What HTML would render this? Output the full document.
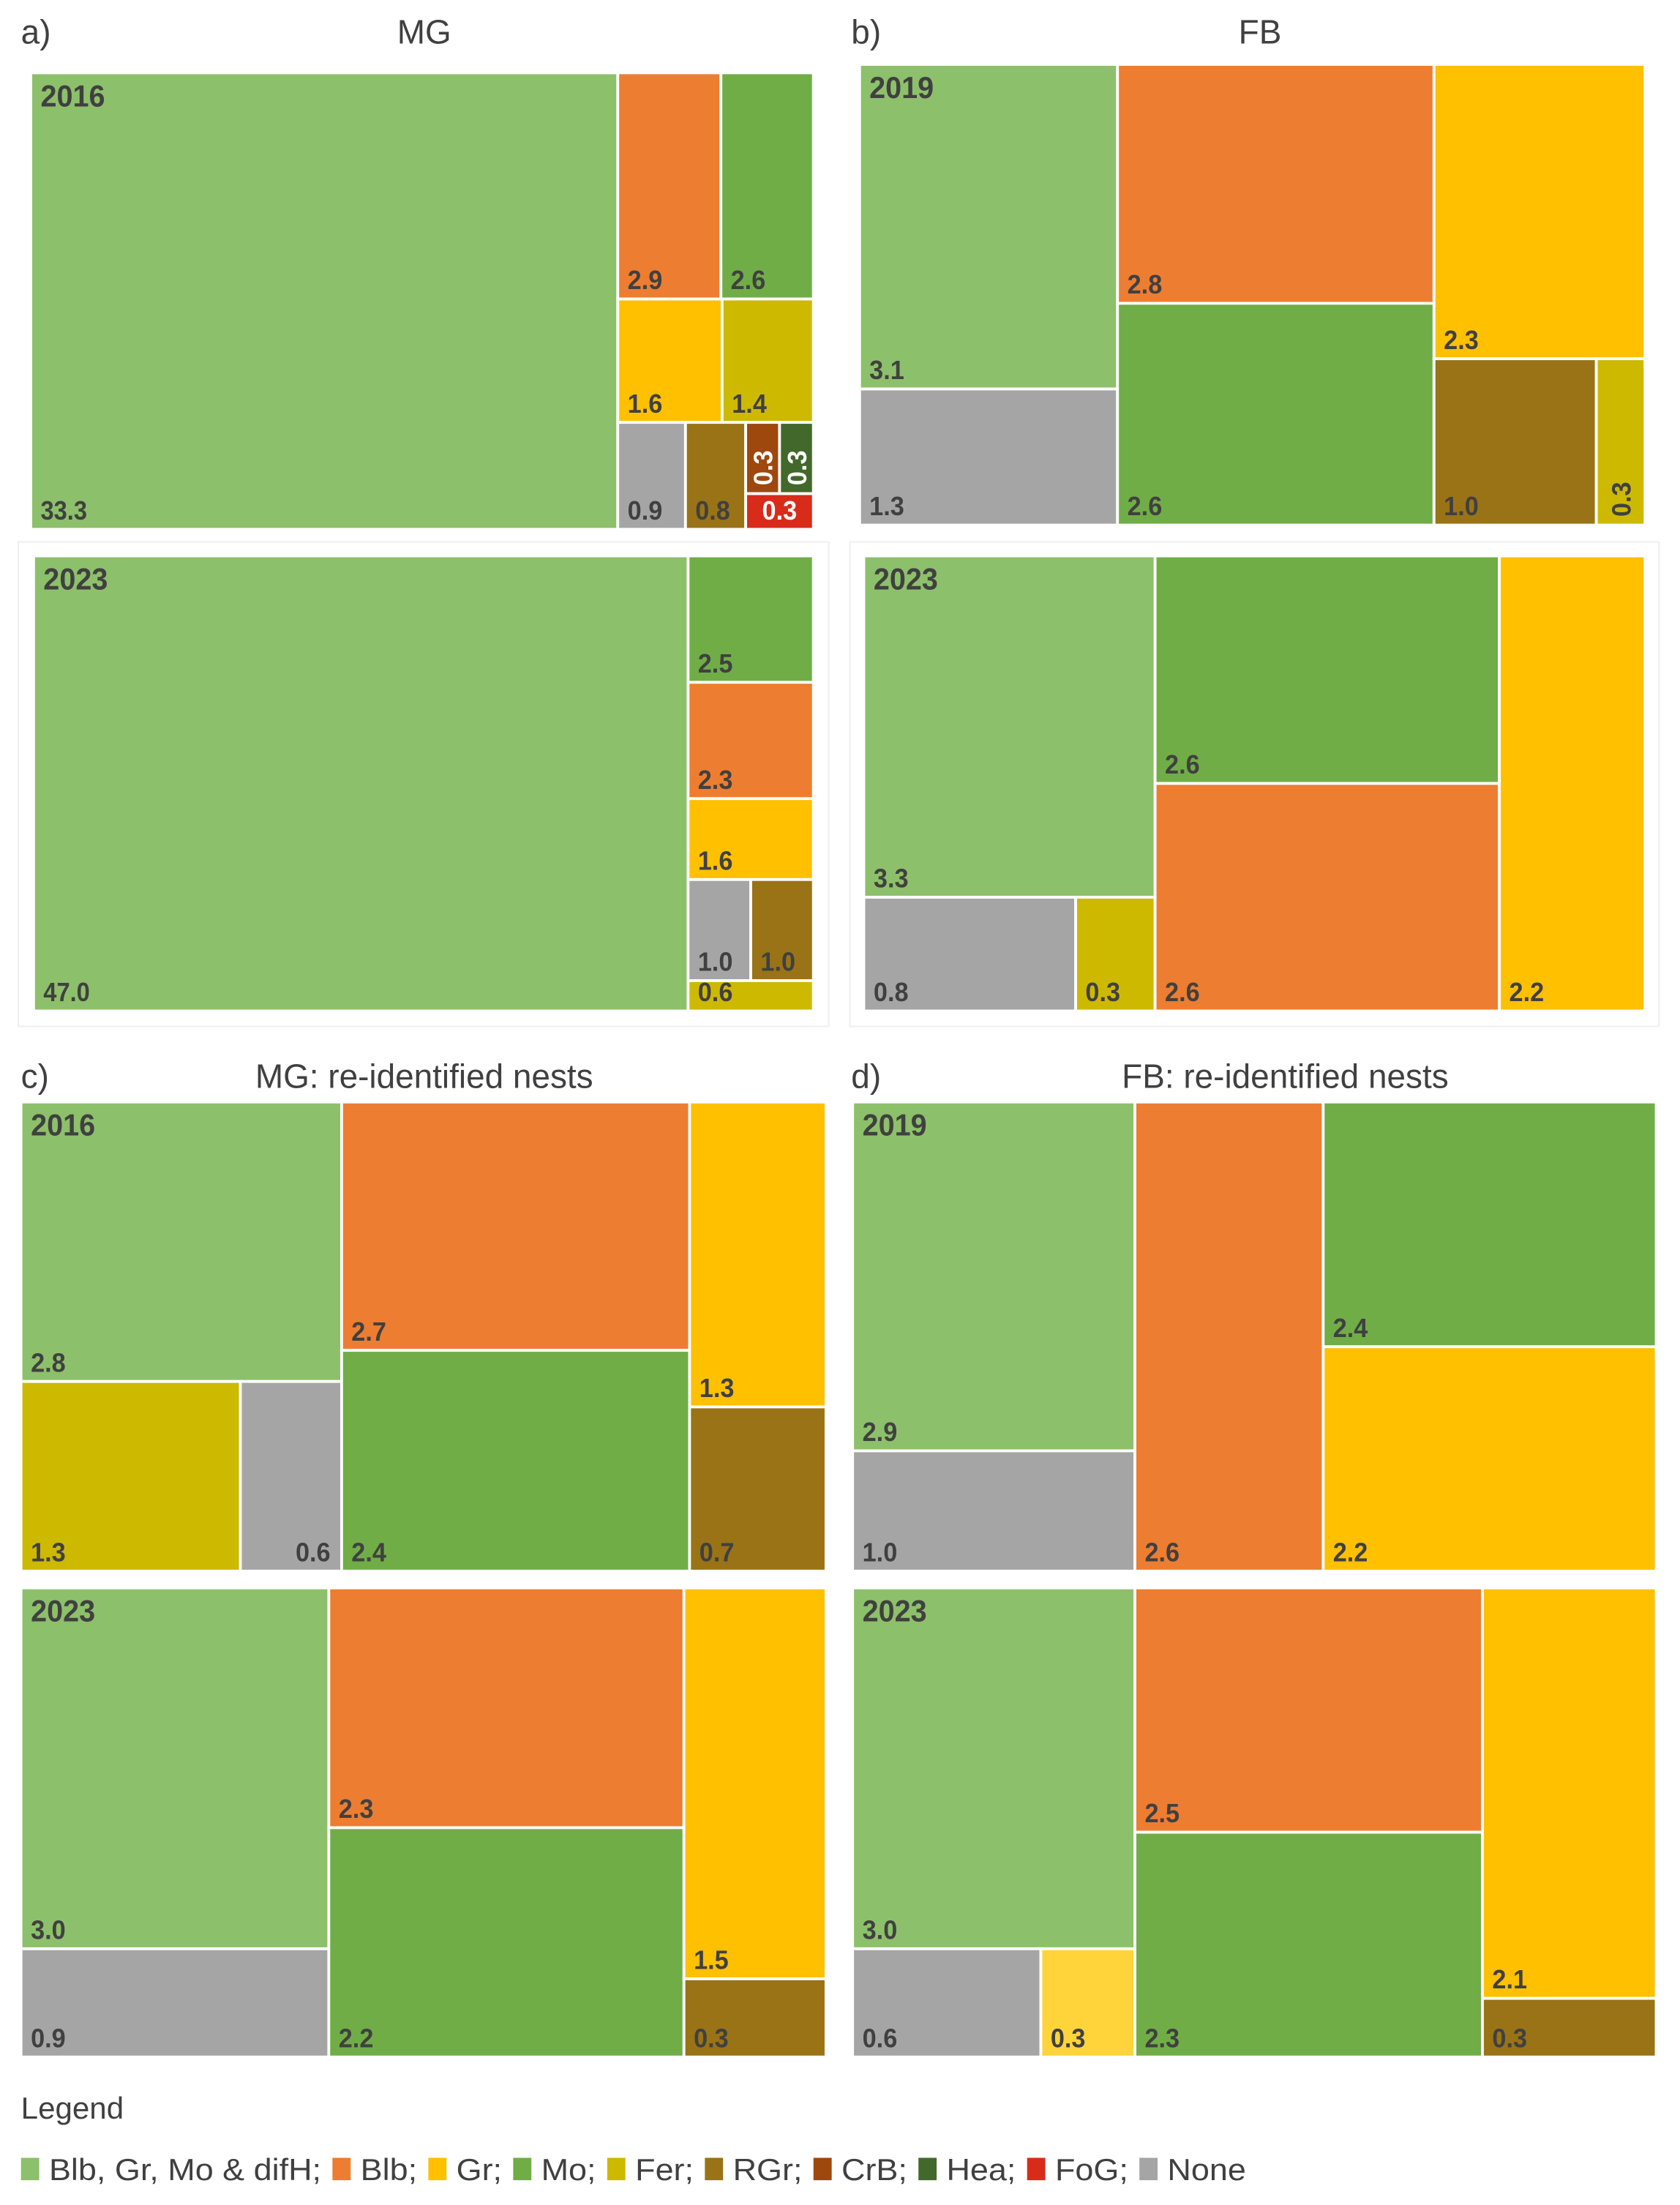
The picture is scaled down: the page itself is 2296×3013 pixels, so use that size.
<!DOCTYPE html>
<html><head><meta charset="utf-8"><style>
html,body{margin:0;padding:0;background:#fff;}
svg{display:block;}
text{font-family:"Liberation Sans",sans-serif;}
</style></head>
<body>
<svg id="chart" width="2296" height="3013" viewBox="0 0 1200 1574.7" preserveAspectRatio="none" xmlns="http://www.w3.org/2000/svg">
<rect x="0" y="0" width="1200" height="1575" fill="#fff"/>
<rect x="13" y="387" width="579" height="346" fill="none" stroke="#eeeeee" stroke-width="1"/>
<rect x="607" y="387" width="578" height="346" fill="none" stroke="#eeeeee" stroke-width="1"/>
<g id="marks"></g>
<text x="15" y="31" font-size="24" fill="#404040">a)</text>
<text x="303" y="31" font-size="24" fill="#404040" text-anchor="middle">MG</text>
<text x="608" y="31" font-size="24" fill="#404040">b)</text>
<text x="900" y="31" font-size="24" fill="#404040" text-anchor="middle">FB</text>
<text x="15" y="777" font-size="24" fill="#404040">c)</text>
<text x="303" y="777" font-size="24" fill="#404040" text-anchor="middle">MG: re-identified nests</text>
<text x="608" y="777" font-size="24" fill="#404040">d)</text>
<text x="918" y="777" font-size="24" fill="#404040" text-anchor="middle">FB: re-identified nests</text>
<text x="15" y="1513" font-size="22" fill="#404040">Legend</text>
<g id="legend"></g>
</svg>
<script>
// Category colours
const categories = ["Blb, Gr, Mo & difH","Blb","Gr","Mo","Fer","RGr","CrB","Hea","FoG","None"];
const catColors = ["#8DC06A","#ED7D31","#FFC000","#70AD47","#CDB900","#997316","#9E480E","#43682B","#D92B1A","#A5A5A5"];

// Values per treemap (category index, value)
const mg2016Cats = [0,1,3,2,4,9,5,6,7,8];
const mg2016Vals = [33.3,2.9,2.6,1.6,1.4,0.9,0.8,0.3,0.3,0.3];
const mg2023Cats = [0,3,1,2,9,5,4];
const mg2023Vals = [47.0,2.5,2.3,1.6,1.0,1.0,0.6];
const fb2019Cats = [0,9,1,3,2,5,4];
const fb2019Vals = [3.1,1.3,2.8,2.6,2.3,1.0,0.3];
const fb2023Cats = [0,9,4,3,1,2];
const fb2023Vals = [3.3,0.8,0.3,2.6,2.6,2.2];
const mgR2016Cats = [0,4,9,1,3,2,5];
const mgR2016Vals = [2.8,1.3,0.6,2.7,2.4,1.3,0.7];
const mgR2023Cats = [0,9,1,3,2,5];
const mgR2023Vals = [3.0,0.9,2.3,2.2,1.5,0.3];
const fbR2019Cats = [0,9,1,3,2];
const fbR2019Vals = [2.9,1.0,2.6,2.4,2.2];
const fbR2023Cats = [0,9,2,1,3,2,5];
const fbR2023Vals = [3.0,0.6,0.3,2.5,2.3,2.1,0.3];
const years = ["2016","2023","2019","2023","2016","2023","2019","2023"];

// layout structures: h = side by side, v = stacked; numbers = leaf index
const maps = [
 {name:"mg-2016",cats:mg2016Cats,vals:mg2016Vals,box:[22,52,581,378],year:0,
  tree:{d:"h",c:[0,{d:"v",c:[{d:"h",c:[1,2]},{d:"h",c:[3,4]},{d:"h",c:[5,6,{d:"v",c:[{d:"h",c:[7,8]},9]}]}]}]},rot:[7,8],white:[7,8,9]},
 {name:"mg-2023",cats:mg2023Cats,vals:mg2023Vals,box:[24,397,581,722],year:1,
  tree:{d:"h",c:[0,{d:"v",c:[1,2,3,{d:"h",c:[4,5]},6]}]},rot:[],white:[]},
 {name:"fb-2019",cats:fb2019Cats,vals:fb2019Vals,box:[614,46,1175,375],year:2,
  tree:{d:"h",c:[{d:"v",c:[0,1]},{d:"v",c:[2,3]},{d:"v",c:[4,{d:"h",c:[5,6]}]}]},rot:[6],white:[]},
 {name:"fb-2023",cats:fb2023Cats,vals:fb2023Vals,box:[617,397,1175,722],year:3,
  tree:{d:"h",c:[{d:"v",c:[0,{d:"h",c:[1,2]}]},{d:"v",c:[3,4]},5]},rot:[],white:[]},
 {name:"mg-reid-2016",cats:mgR2016Cats,vals:mgR2016Vals,box:[15,787,590,1122],year:4,
  tree:{d:"h",c:[{d:"v",c:[0,{d:"h",c:[1,2]}]},{d:"v",c:[3,4]},{d:"v",c:[5,6]}]},rot:[],white:[],right:[2]},
 {name:"mg-reid-2023",cats:mgR2023Cats,vals:mgR2023Vals,box:[15,1134,590,1469],year:5,
  tree:{d:"h",c:[{d:"v",c:[0,1]},{d:"v",c:[2,3]},{d:"v",c:[4,5]}]},rot:[],white:[]},
 {name:"fb-reid-2019",cats:fbR2019Cats,vals:fbR2019Vals,box:[609,787,1183,1122],year:6,
  tree:{d:"h",c:[{d:"v",c:[0,1]},2,{d:"v",c:[3,4]}]},rot:[],white:[]},
 {name:"fb-reid-2023",cats:fbR2023Cats,vals:fbR2023Vals,box:[609,1134,1183,1469],year:7,
  tree:{d:"h",c:[{d:"v",c:[0,{d:"h",c:[1,2]}]},{d:"v",c:[3,4]},{d:"v",c:[5,6]}]},rot:[],white:[],light:[2]}
];

const NS="http://www.w3.org/2000/svg";
const marks=document.getElementById("marks");
function sum(node,vals){return typeof node==="number"?vals[node]:node.c.reduce((s,n)=>s+sum(n,vals),0);}
function layout(node,vals,x0,y0,x1,y1,out){
  if(typeof node==="number"){out.push({i:node,x0,y0,x1,y1});return;}
  const tot=sum(node,vals);let p=node.d==="h"?x0:y0;
  node.c.forEach(ch=>{const s=sum(ch,vals)/tot;
    if(node.d==="h"){const w=(x1-x0)*s;layout(ch,vals,p,y0,p+w,y1,out);p+=w;}
    else{const h=(y1-y0)*s;layout(ch,vals,x0,p,x1,p+h,out);p+=h;}});
}
maps.forEach(m=>{
  const g=document.createElementNS(NS,"g");
  
  
  marks.appendChild(g);
  const cells=[];layout(m.tree,m.vals,m.box[0],m.box[1],m.box[2],m.box[3],cells);
  cells.forEach(c=>{
    const cat=m.cats[c.i];
    const r=document.createElementNS(NS,"rect");
    r.setAttribute("x",c.x0);r.setAttribute("y",c.y0);
    r.setAttribute("width",c.x1-c.x0);r.setAttribute("height",c.y1-c.y0);
    let col=catColors[cat];
    if(m.light&&m.light.includes(c.i))col="#FFD43B";
    r.setAttribute("fill",col);r.setAttribute("stroke","#fff");r.setAttribute("stroke-width","2");
    
    
    g.appendChild(r);
    const t=document.createElementNS(NS,"text");
    t.textContent=m.vals[c.i].toFixed(1);
    t.setAttribute("font-size","19");t.setAttribute("font-weight","bold");
    t.setAttribute("fill",m.white.includes(c.i)?"#fff":"#404040");
    t.setAttribute("textLength",t.textContent.length*8.3);
    t.setAttribute("lengthAdjust","spacingAndGlyphs");
    if(m.rot.includes(c.i)){
      const cx=(c.x0+c.x1)/2+7,cy=c.y1-6;
      t.setAttribute("transform","translate("+cx+","+cy+") rotate(-90)");
    }else if(m.right&&m.right.includes(c.i)){
      t.setAttribute("x",c.x1-8);t.setAttribute("y",c.y1-7);t.setAttribute("text-anchor","end");
    }else{
      t.setAttribute("x",c.x0+7);t.setAttribute("y",c.y1-7);
      if(m.white.includes(c.i)){t.setAttribute("x",(c.x0+c.x1)/2);t.setAttribute("text-anchor","middle");}
    }
    
    
    g.appendChild(t);
  });
  const y=document.createElementNS(NS,"text");
  y.textContent=years[m.year];
  y.setAttribute("x",m.box[0]+7);y.setAttribute("y",m.box[1]+24);
  y.setAttribute("font-size","22");y.setAttribute("font-weight","bold");y.setAttribute("fill","#404040");
  y.setAttribute("textLength","46");y.setAttribute("lengthAdjust","spacingAndGlyphs");
  
  
  g.appendChild(y);
});

// legend: sequential layout scaled to span 15..890
const leg=document.getElementById("legend");
const texts=[];
categories.forEach((c,i)=>{
  const t=document.createElementNS(NS,"text");
  t.textContent=c+(i<categories.length-1?";":"");
  t.setAttribute("y",1557);
  t.setAttribute("font-size","22");t.setAttribute("fill","#404040");
  
  
  leg.appendChild(t);
  texts.push(t);
});
const nat=texts.map(t=>t.getComputedTextLength());
const totalNat=nat.reduce((a,b)=>a+b,0);
const fixed=categories.length*20+(categories.length-1)*8;
const k=(890-15-fixed)/totalNat;
let x=15;
texts.forEach((t,i)=>{
  const s=document.createElementNS(NS,"rect");
  s.setAttribute("x",x);s.setAttribute("y",1541);s.setAttribute("width",13);s.setAttribute("height",16);
  s.setAttribute("fill",catColors[i]);
  
  
  leg.appendChild(s);
  const w=nat[i]*k;
  t.setAttribute("x",x+20);
  t.setAttribute("textLength",w);
  t.setAttribute("lengthAdjust","spacingAndGlyphs");
  x+=20+w+8;
});
</script>
</body></html>
